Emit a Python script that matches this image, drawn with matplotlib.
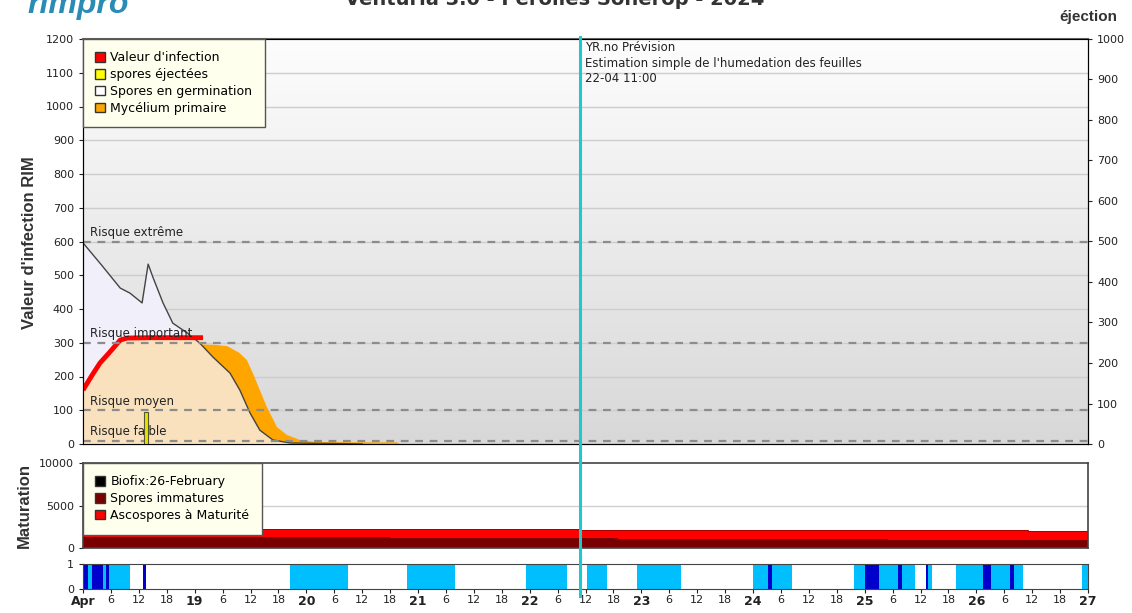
import matplotlib
matplotlib.use('Agg')
import matplotlib.pyplot as plt
import numpy as np
from matplotlib.patches import Patch
from matplotlib.lines import Line2D
from matplotlib.colors import LinearSegmentedColormap
import matplotlib.transforms as mtransforms

plt.rcParams['font.family'] = ['DejaVu Sans']

# --- data (hours since 18 April 00:00) ---
germ_hours = [0, 4, 8, 10.1, 12.7, 14.0, 15.0, 17.2, 19.3, 22.4, 25.1, 27.9, 31.6, 33.7, 35.9, 38.0, 40.8, 44.5, 50, 56, 60]
germ_values = [596, 530, 462, 447, 418, 533, 495, 418, 358, 329, 299, 258, 210, 160, 92, 41, 12, 3, 2, 1, 0]

infect_hours = [0, 2, 3.65, 5.8, 8, 9.5, 15, 20, 25.8]
infect_values = [160, 205, 240, 273, 308, 314, 315, 315, 315]

myc_hours = [25.1, 28, 31, 33.6, 35.2, 36.5, 38, 39.5, 41.7, 43.8, 46.6, 50, 60, 67.5, 68]
myc_values = [295, 294, 290, 270, 249, 210, 160, 110, 50, 27, 12, 6, 5, 5, 0]

ejected_hours = [13.6]
ejected_values = [78]

risk_levels = [600, 300, 100, 10]
risk_labels = ['Risque extrême', 'Risque important', 'Risque moyen', 'Risque faible']

forecast_hour = 106.8

mat_hours = [0, 66, 107, 115, 173, 203, 216]
immature = [1290, 1180, 1180, 1060, 900, 900, 900]
mature = [950, 1060, 940, 1060, 1220, 1060, 1060]

wet_start = [0, 1, 2, 4.3, 4.9, 5.6, 13, 44.5, 69.6, 95.2, 108.3, 119, 144, 147.2, 148, 165.7, 168, 171,
             175.2, 176, 181.2, 181.7, 187.6, 193.4, 195.1, 199.2, 200, 214.7]
wet_end = [1, 2, 4.3, 4.9, 5.6, 10, 13.6, 57, 80, 104, 112.6, 128.5, 147.2, 148, 152.4, 168, 171, 175.2,
           176, 178.8, 181.7, 182.5, 193.4, 195.1, 199.2, 200, 202, 216]
wet_level = ['D', 'L', 'D', 'L', 'D', 'L', 'D', 'L', 'L', 'L', 'L', 'L', 'L', 'D', 'L', 'L', 'D', 'L',
             'D', 'L', 'D', 'L', 'L', 'D', 'L', 'D', 'L', 'L']

W, H = 1132, 613
fig = plt.figure(figsize=(W / 100, H / 100), dpi=100)


def box(x0, y0, x1, y1):
    return [x0 / W, 1 - y1 / H, (x1 - x0) / W, (y1 - y0) / H]


ax = fig.add_axes(box(83, 39, 1088, 444))
ax_m = fig.add_axes(box(83, 463, 1088, 548))
ax_w = fig.add_axes(box(83, 564, 1088, 589))

TXT = '#222222'

# --- main panel ---
ax.set_xlim(0, 216)
ax.set_ylim(0, 1200)
bg = LinearSegmentedColormap.from_list('bg', ['#fdfdfd', '#d8d8d8'])
ax.imshow(np.linspace(0, 1, 256).reshape(-1, 1), cmap=bg, extent=[0, 216, 0, 1200], aspect='auto', zorder=0)
for v in range(100, 1200, 100):
    ax.axhline(v, color='#cdcdcd', lw=1, zorder=1)
for lvl in risk_levels:
    ax.axhline(lvl, color='#8c8c8c', lw=1.6, ls=(0, (3.5, 3)), zorder=6)
for lvl, lab in zip(risk_levels, risk_labels):
    ax.text(1.5, lvl + 27, lab, fontsize=8.5, color=TXT, va='center', zorder=7)

ax.fill_between(germ_hours, 0, germ_values, color='#f1effa', lw=0, zorder=2)
gh = np.array(germ_hours)
gv = np.array(germ_values)
sel = gh >= 25
ax.fill_between(gh[sel], 0, gv[sel], color='#f9e1bd', lw=0, zorder=3)
ax.fill_between(infect_hours, 0, infect_values, color='#f9e1bd', lw=0, zorder=3)
ax.fill(np.concatenate([myc_hours, gh[sel][::-1]]), np.concatenate([myc_values, gv[sel][::-1]]),
        color='#ffa500', lw=0, zorder=3)
ax.plot(germ_hours, germ_values, color='#444444', lw=1, zorder=5)
ax.plot(infect_hours, infect_values, color='#ff0000', lw=3.5, zorder=5, solid_capstyle='butt')

ax.tick_params(axis='x', bottom=False, labelbottom=False)
ax.set_yticks(range(0, 1201, 100))
ax.tick_params(axis='y', labelsize=8, colors=TXT, length=3)
ax.spines['top'].set_color('#666666')
ax.spines['top'].set_linewidth(1.5)

ax_r = ax.twinx()
ax_r.set_ylim(0, 1000)
ax_r.set_yticks(range(0, 1001, 100))
ax_r.tick_params(axis='y', labelsize=8, colors=TXT, length=3)
ax_r.bar(ejected_hours, ejected_values, width=0.9, color='#e4e400', edgecolor='#555533', lw=0.8, zorder=4)
ax_r.text(forecast_hour + 1.1, 994, "YR.no Prévision\nEstimation simple de l'humedation des feuilles\n22-04 11:00",
          fontsize=8.5, color=TXT, va='top', linespacing=1.25)

handles = [Patch(facecolor='#ff0000', edgecolor='#333333'),
           Patch(facecolor='#ffff00', edgecolor='#333333'),
           Patch(facecolor='#ffffff', edgecolor='#333333'),
           Patch(facecolor='#ffa500', edgecolor='#333333')]
leg = ax_r.legend(handles, ["Valeur d'infection", 'spores éjectées', 'Spores en germination', 'Mycélium primaire'],
                  loc='upper left', borderaxespad=0, fontsize=9, frameon=True, fancybox=False,
                  handlelength=0.8, handleheight=0.8, handletextpad=0.4, labelspacing=0.3, borderpad=1.0)
leg.get_frame().set_facecolor('#ffffee')
leg.get_frame().set_edgecolor('#555555')
leg.get_frame().set_alpha(1)

# --- maturation panel ---
ax_m.set_xlim(0, 216)
ax_m.set_ylim(0, 10000)
ax_m.axhline(5000, color='#d0d0d0', lw=1)
tot = np.array(immature) + np.array(mature)
ax_m.fill_between(mat_hours, 0, immature, step='post', color='#7a0000', lw=0)
ax_m.fill_between(mat_hours, immature, tot, step='post', color='#ff0000', lw=0)
ax_m.step(mat_hours, tot, where='post', color='#990000', lw=0.6)
ax_m.set_yticks([0, 5000, 10000])
ax_m.tick_params(axis='y', labelsize=8, colors=TXT, length=3)
ax_m.tick_params(axis='x', bottom=False, labelbottom=False)
for s in ax_m.spines.values():
    s.set_color('#444444')
    s.set_linewidth(1.2)
mh = [Patch(facecolor='#000000', edgecolor='#333333'),
      Patch(facecolor='#7a0000', edgecolor='#333333'),
      Patch(facecolor='#ff0000', edgecolor='#333333')]
leg2 = ax_m.legend(mh, ['Biofix:26-February', 'Spores immatures', 'Ascospores à Maturité'],
                   loc='upper left', borderaxespad=0, fontsize=9, frameon=True, fancybox=False,
                   handlelength=0.8, handleheight=0.8, handletextpad=0.4, labelspacing=0.3, borderpad=1.0)
leg2.get_frame().set_facecolor('#ffffee')
leg2.get_frame().set_edgecolor('#555555')
leg2.get_frame().set_alpha(1)

# --- leaf wetness panel ---
ax_w.set_xlim(0, 216)
ax_w.set_ylim(0, 1)
ws = np.array(wet_start)
we = np.array(wet_end)
wc = ['#0000cd' if l == 'D' else '#00bfff' for l in wet_level]
ax_w.bar(ws, 1, width=we - ws, align='edge', color=wc, lw=0)
ax_w.set_yticks([0, 1])
ax_w.tick_params(axis='y', labelsize=8, colors=TXT, length=3)
ticks = list(range(0, 217, 6))
labels = []
for h in ticks:
    if h == 0:
        labels.append('Apr')
    elif h % 24 == 0:
        labels.append(str(18 + h // 24))
    else:
        labels.append(str(h % 24))
ax_w.set_xticks(ticks, labels)
ax_w.tick_params(axis='x', labelsize=8, colors=TXT, length=3, pad=1)
for h, t in zip(ticks, ax_w.get_xticklabels()):
    if h % 24 == 0:
        t.set_fontweight('bold')
        t.set_fontsize(9)
for s in ax_w.spines.values():
    s.set_color('#444444')

# forecast line across panels
tr = mtransforms.blended_transform_factory(ax.transData, fig.transFigure)
fig.add_artist(Line2D([forecast_hour, forecast_hour], [1 - 37 / H, 1 - 596 / H], transform=tr,
                      color='#1ec8cf', lw=2.2, zorder=10))

# labels and titles
fig.text(30 / W, 1 - 243 / H, "Valeur d'infection RIM", rotation=90, ha='center', va='center',
         fontsize=12, fontweight='bold', family='Liberation Sans', color='#333333')
fig.text(24 / W, 1 - 505 / H, 'Maturation', rotation=90, ha='center', va='center',
         fontsize=12, fontweight='bold', family='Liberation Sans', color='#333333')
fig.text(1088 / W, 1 - 17 / H, 'éjection', ha='center', va='center',
         fontsize=11, fontweight='bold', family='Liberation Sans', color='#333333')
fig.text(555 / W, 1 - 5 / H, 'Venturia 3.0 - Pérolles Sonerop - 2024', ha='center', va='baseline',
         fontsize=14, fontweight='bold', color='#333333')
fig.text(27 / W, 1 - 13 / H, 'rimpro', ha='left', va='baseline', fontsize=23, fontweight='bold',
         fontstyle='italic', family='Liberation Sans', color='#2a8bb5')

fig.savefig('out.png', dpi=100)
